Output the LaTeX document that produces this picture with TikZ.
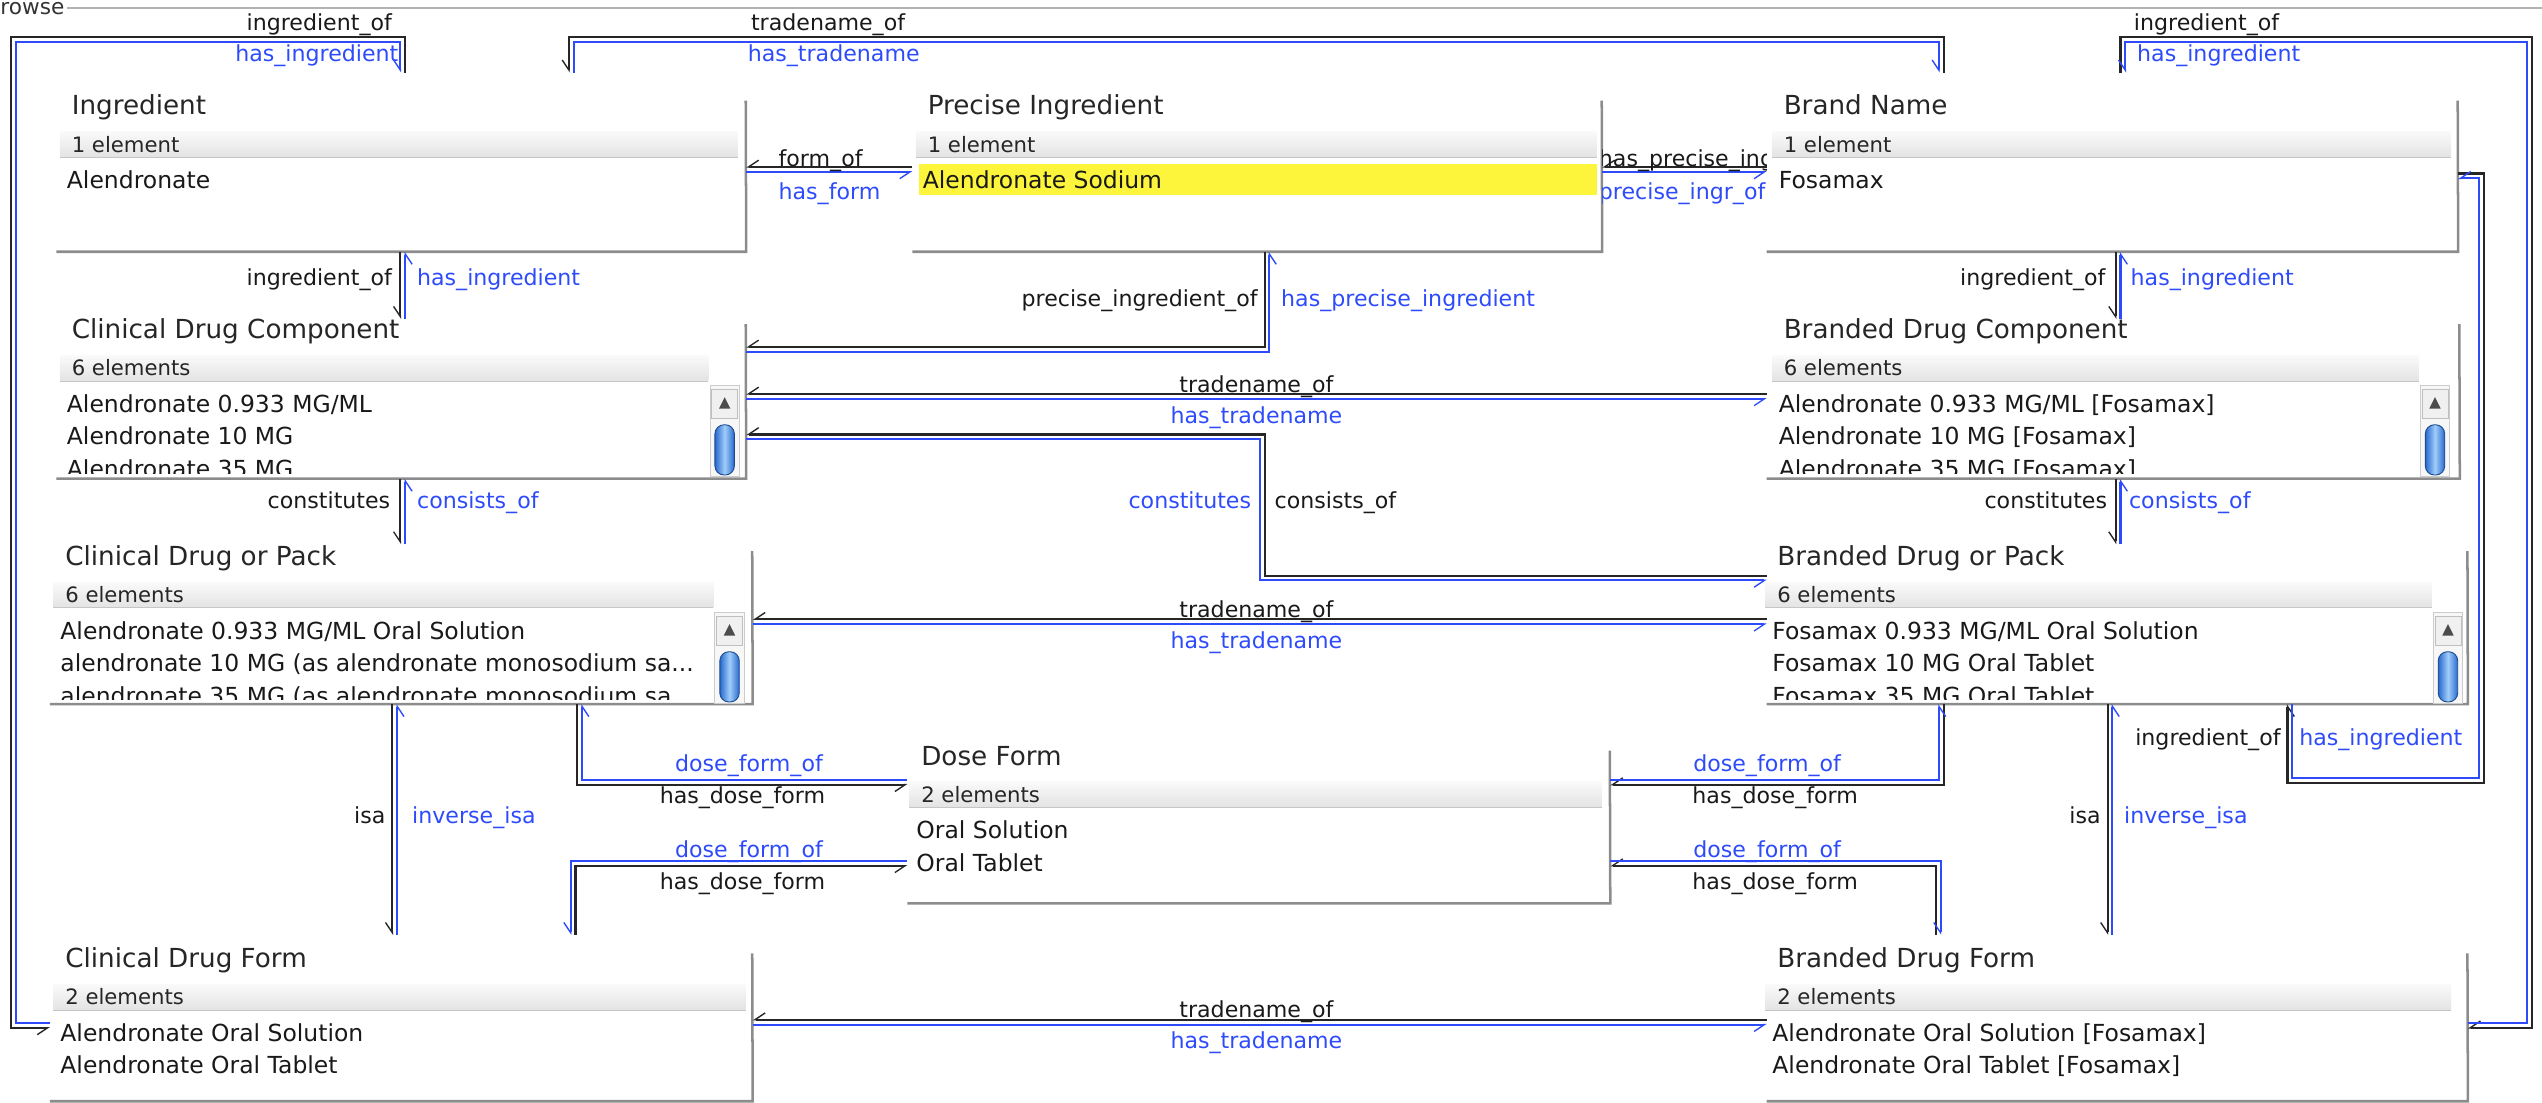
\documentclass[tikz,border=0pt]{standalone}
\usepackage{fontspec}
\setmainfont{DejaVu Sans}
\usetikzlibrary{arrows.meta,fit,calc}
\definecolor{relblue}{RGB}{45,75,250}
\definecolor{aquadark}{RGB}{40,105,205}
\definecolor{aqualight}{RGB}{160,205,250}
\definecolor{hilite}{RGB}{252,245,60}

\begin{document}
\begin{tikzpicture}[
    x=0.025cm, y=-0.025cm,
    every node/.style={inner sep=0pt},
    ptitle/.style={anchor=west, font=\fontsize{11.5}{13}\selectfont, text height=10.4pt, text depth=2pt, black!85},
    phead/.style={anchor=west, font=\fontsize{9.3}{11}\selectfont, text height=8.8pt, text depth=2pt, black!85},
    pitem/.style={anchor=west, font=\fontsize{10.3}{12}\selectfont, text height=9.5pt, text depth=2pt, black!90},
    lblk/.style={font=\fontsize{9.7}{11}\selectfont, text height=9pt, text depth=2pt, black!90},
    lblu/.style={lblk, relblue},
    rim/.style={draw=black!45, line width=1.1pt},
    blk/.style={draw=black!85, line width=0.9pt, -{Straight Barb[harpoon,swap,length=4.5pt,width=6pt,line width=0.6pt]}},
    blu/.style={draw=relblue, line width=0.9pt, -{Straight Barb[harpoon,swap,length=4.5pt,width=6pt,line width=0.6pt]}},
  ]
    \useasboundingbox (0,0) rectangle (1568,680);
    %% Group frame
    \node[anchor=west, font=\fontsize{9.5}{11}\selectfont, black!80] (browse) at (0,5) {rowse};
    \draw[gray!60, line width=1.2pt] ([xshift=1pt]browse.east) -- (browse.east -| 1568,0);

    %% Panels: name / left / top / right / bottom / rim top / text x / bar right / title / count
    \foreach \n/\xa/\ya/\xb/\yc/\yr/\xt/\xh/\ti/\hd in {
        in/35/45/460/155/62/41/455/Ingredient/1 element,
        pin/563/45/988/155/62/569/985/Precise Ingredient/1 element,
        bn/1090/45/1516/155/62/1097/1512/Brand Name/1 element,
        scdc/35/197/460/295/200/41/437/Clinical Drug Component/6 elements,
        sbdc/1090/197/1517/295/200/1097/1492/Branded Drug Component/6 elements,
        scd/31/336/464/434/340/37/440/Clinical Drug or Pack/6 elements,
        sbd/1090/336/1522/434/340/1093/1500/Branded Drug or Pack/6 elements,
        df/560/463/993/557/463/565/988/Dose Form/2 elements,
        scdf/31/577/464/679/588/37/460/Clinical Drug Form/2 elements,
        sbdf/1090/577/1522/679/588/1093/1512/Branded Drug Form/2 elements}
    {
      \node[fit={(\xa,\ya) (\xb,\yc)}] (\n) {};
      \draw[rim] (\xb,\yr) -- (\n.south east) -- (\n.south west);
      \shade[top color=gray!4, bottom color=gray!22] (\xt-4,\yr+19) rectangle (\xh,\yr+35);
      \draw[gray!45] (\xt-4,\yr+35) -- (\xh,\yr+35);
      \node[ptitle] (\n-t) at (\xt+3,\yr+3) {\ti};
      \node[phead] (\n-h) at (\xt+3,\yr+27) {\hd};
    }
    %% selected entry
    \fill[hilite] (567,101) rectangle (985,120);

    %% List entries: panel / row / text
    \foreach \n/\k/\txt in {
        in/0/{Alendronate},
        pin/0/{Alendronate Sodium},
        bn/0/{Fosamax},
        scdc/0/{Alendronate 0.933 MG/ML}, scdc/1/{Alendronate 10 MG}, scdc/2/{Alendronate 35 MG},
        sbdc/0/{Alendronate 0.933 MG/ML [Fosamax]}, sbdc/1/{Alendronate 10 MG [Fosamax]},
        sbdc/2/{Alendronate 35 MG [Fosamax]},
        scd/0/{Alendronate 0.933 MG/ML Oral Solution},
        scd/1/{alendronate 10 MG (as alendronate monosodium sa...},
        scd/2/{alendronate 35 MG (as alendronate monosodium sa...},
        sbd/0/{Fosamax 0.933 MG/ML Oral Solution}, sbd/1/{Fosamax 10 MG Oral Tablet},
        sbd/2/{Fosamax 35 MG Oral Tablet},
        df/0/{Oral Solution}, df/1/{Oral Tablet},
        scdf/0/{Alendronate Oral Solution}, scdf/1/{Alendronate Oral Tablet},
        sbdf/0/{Alendronate Oral Solution [Fosamax]}, sbdf/1/{Alendronate Oral Tablet [Fosamax]}}
    {
      \begin{scope}
        \clip ($(\n.south west)+(0,-3)$) rectangle ($(\n.east |- \n-h.center)+(0,9)$);
        \node[pitem] (\n-i\k) at ($(\n-h.west)+(-3,22+20*\k)$) {\txt};
      \end{scope}
    }

    %% Scroll bars: bar right / rim top
    \foreach \x/\y in {437/200, 1492/200, 440/340, 1500/340}{
      \draw[gray!40, fill=gray!6] (\x+1,\y+38) rectangle (\x+19,\y+94);
      \draw[gray!50, fill=gray!12] (\x+2,\y+40) rectangle (\x+18,\y+58);
      \fill[black!70] (\x+6.5,\y+52) -- (\x+13.5,\y+52) -- (\x+10,\y+45) -- cycle;
      \shadedraw[left color=aquadark, right color=aquadark, middle color=aqualight,
        draw=aquadark!70!black, rounded corners=4pt] (\x+4,\y+62) rectangle (\x+16,\y+93);
    }

    %% Relation pairs: black one way, blue the other
    % Ingredient <-> Clinical Drug Form
    \draw[blk] (250,0 |- in.north) |- (7,23) |- (scdf.west |- 0,634);
    \draw[blu] (scdf.west |- 0,631) -| (10,26) -| (247,0 |- in.north);
    % Ingredient <-> Brand Name
    \draw[blk] (1199,0 |- bn.north) |- (351,23) -- (351,0 |- in.north);
    \draw[blu] (354,0 |- in.north) |- (1196,26) -- (1196,0 |- bn.north);
    % Brand Name <-> Branded Drug Form
    \draw[blk] (1308,0 |- bn.north) |- (1562,23) |- (sbdf.east |- 0,634);
    \draw[blu] (sbdf.east |- 0,631) -| (1559,26) -| (1311,0 |- bn.north);
    % Brand Name <-> Branded Drug or Pack
    \draw[blk] (bn.east |- 0,107) -| (1532,483) -| (1411,0 |- sbd.south);
    \draw[blu] (1414,0 |- sbd.south) |- (1529,480) |- (bn.east |- 0,110);
    % Ingredient <-> Precise Ingredient
    \draw[blk] (pin.west |- 0,103) -- (in.east |- 0,103);
    \draw[blu] (in.east |- 0,106) -- (pin.west |- 0,106);
    % Precise Ingredient <-> Brand Name
    \draw[blk] (bn.west |- 0,103) -- (pin.east |- 0,103);
    \draw[blu] (pin.east |- 0,106) -- (bn.west |- 0,106);
    % Ingredient <-> Clinical Drug Component
    \draw[blk] (247,0 |- in.south) -- (247,0 |- scdc.north);
    \draw[blu] (250,0 |- scdc.north) -- (250,0 |- in.south);
    % Precise Ingredient <-> Clinical Drug Component
    \draw[blk] (780,0 |- pin.south) |- (scdc.east |- 0,214);
    \draw[blu] (scdc.east |- 0,217) -| (783,0 |- pin.south);
    % Brand Name <-> Branded Drug Component
    \draw[blk] (1305,0 |- bn.south) -- (1305,0 |- sbdc.north);
    \draw[blu] (1308,0 |- sbdc.north) -- (1308,0 |- bn.south);
    % Clinical <-> Branded Drug Component
    \draw[blk] (sbdc.west |- 0,243) -- (scdc.east |- 0,243);
    \draw[blu] (scdc.east |- 0,246) -- (sbdc.west |- 0,246);
    % Clinical Drug Component <-> Branded Drug or Pack
    \draw[blk] (sbd.west |- 0,355) -| (780,268) -- (scdc.east |- 0,268);
    \draw[blu] (scdc.east |- 0,271) -| (777,358) -- (sbd.west |- 0,358);
    % Components <-> Drug or Pack
    \draw[blk] (247,0 |- scdc.south) -- (247,0 |- scd.north);
    \draw[blu] (250,0 |- scd.north) -- (250,0 |- scdc.south);
    \draw[blk] (1305,0 |- sbdc.south) -- (1305,0 |- sbd.north);
    \draw[blu] (1308,0 |- sbd.north) -- (1308,0 |- sbdc.south);
    % Clinical <-> Branded Drug or Pack
    \draw[blk] (sbd.west |- 0,382) -- (scd.east |- 0,382);
    \draw[blu] (scd.east |- 0,385) -- (sbd.west |- 0,385);
    % Drug or Pack <-> Drug Form
    \draw[blk] (242,0 |- scd.south) -- (242,0 |- scdf.north);
    \draw[blu] (245,0 |- scdf.north) -- (245,0 |- scd.south);
    \draw[blk] (1300,0 |- sbd.south) -- (1300,0 |- sbdf.north);
    \draw[blu] (1303,0 |- sbdf.north) -- (1303,0 |- sbd.south);
    % Dose Form links
    \draw[blk] (356,0 |- scd.south) |- (df.west |- 0,484);
    \draw[blu] (df.west |- 0,481) -| (359,0 |- scd.south);
    \draw[blk] (355,0 |- scdf.north) |- (df.west |- 0,534);
    \draw[blu] (df.west |- 0,531) -| (352,0 |- scdf.north);
    \draw[blk] (1199,0 |- sbd.south) |- (df.east |- 0,484);
    \draw[blu] (df.east |- 0,481) -| (1196,0 |- sbd.south);
    \draw[blk] (1194,0 |- sbdf.north) |- (df.east |- 0,534);
    \draw[blu] (df.east |- 0,531) -| (1197,0 |- sbdf.north);
    % Clinical <-> Branded Drug Form
    \draw[blk] (sbdf.west |- 0,629) -- (scdf.east |- 0,629);
    \draw[blu] (scdf.east |- 0,632) -- (sbdf.west |- 0,632);

    %% Relation labels
    \node[lblk, anchor=east] (l1k) at (242,14) {ingredient\_of};
    \node[lblu, anchor=east] (l1b) at (246,33) {has\_ingredient};
    \node[lblk, anchor=west] (l2k) at (463,14) {tradename\_of};
    \node[lblu, anchor=west] (l2b) at (461,33) {has\_tradename};
    \node[lblk, anchor=west] (l3k) at (1316,14) {ingredient\_of};
    \node[lblu, anchor=west] (l3b) at (1318,33) {has\_ingredient};
    \node[lblk, anchor=west] (l4k) at (480,98) {form\_of};
    \node[lblu, anchor=west] (l4b) at (480,118) {has\_form};
    \begin{scope}
      \clip (pin.east |- 0,85) rectangle (bn.west |- 0,128);
      \node[lblk, anchor=west] (l5k) at (986,98) {has\_precise\_ingr};
      \node[lblu, anchor=west] (l5b) at (986,118) {precise\_ingr\_of};
    \end{scope}
    \node[lblk, anchor=east] (l6k) at (242,171) {ingredient\_of};
    \node[lblu, anchor=west] (l6b) at (257,171) {has\_ingredient};
    \node[lblk, anchor=east] (l7k) at (776,184) {precise\_ingredient\_of};
    \node[lblu, anchor=west] (l7b) at (790,184) {has\_precise\_ingredient};
    \node[lblk, anchor=east] (l8k) at (1299,171) {ingredient\_of};
    \node[lblu, anchor=west] (l8b) at (1314,171) {has\_ingredient};
    \node[lblk] (l9k) at (775,237) {tradename\_of};
    \node[lblu] (l9b) at (775,256) {has\_tradename};
    \node[lblk, anchor=east] (l10k) at (241,309) {constitutes};
    \node[lblu, anchor=west] (l10b) at (257,309) {consists\_of};
    \node[lblu, anchor=east] (l11b) at (772,309) {constitutes};
    \node[lblk, anchor=west] (l11k) at (786,309) {consists\_of};
    \node[lblk, anchor=east] (l12k) at (1300,309) {constitutes};
    \node[lblu, anchor=west] (l12b) at (1313,309) {consists\_of};
    \node[lblk] (l13k) at (775,376) {tradename\_of};
    \node[lblu] (l13b) at (775,395) {has\_tradename};
    \node[lblk, anchor=east] (l14k) at (238,503) {isa};
    \node[lblu, anchor=west] (l14b) at (254,503) {inverse\_isa};
    \node[lblk, anchor=east] (l15k) at (1296,503) {isa};
    \node[lblu, anchor=west] (l15b) at (1310,503) {inverse\_isa};
    \node[lblk, anchor=east] (l16k) at (1407,455) {ingredient\_of};
    \node[lblu, anchor=west] (l16b) at (1418,455) {has\_ingredient};
    \node[lblu] (l17b) at (462,471) {dose\_form\_of};
    \node[lblk] (l17k) at (458,491) {has\_dose\_form};
    \node[lblu] (l18b) at (462,524) {dose\_form\_of};
    \node[lblk] (l18k) at (458,544) {has\_dose\_form};
    \node[lblu] (l19b) at (1090,471) {dose\_form\_of};
    \node[lblk] (l19k) at (1095,491) {has\_dose\_form};
    \node[lblu] (l20b) at (1090,524) {dose\_form\_of};
    \node[lblk] (l20k) at (1095,544) {has\_dose\_form};
    \node[lblk] (l21k) at (775,623) {tradename\_of};
    \node[lblu] (l21b) at (775,642) {has\_tradename};
\end{tikzpicture}
\end{document}
